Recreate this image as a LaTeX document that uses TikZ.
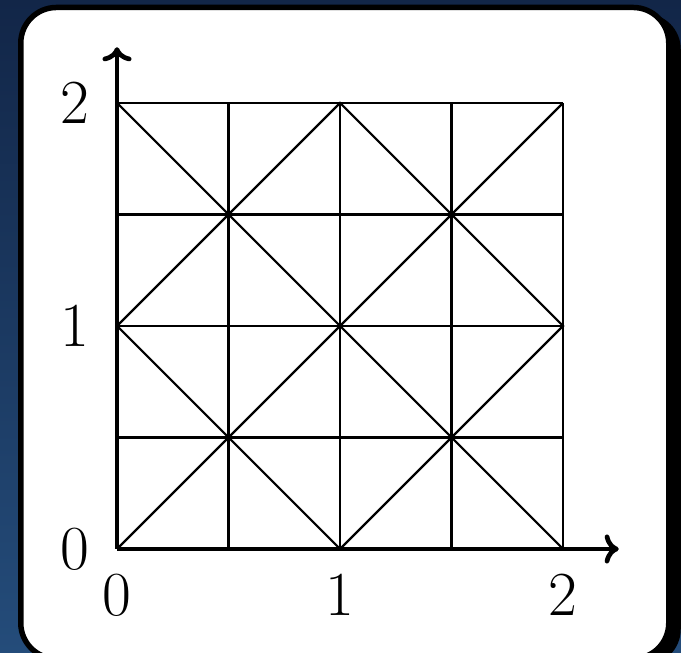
\documentclass[tikz,border=0pt]{standalone}
\usepackage{fontspec}
\usepackage{xcolor}
\usetikzlibrary{arrows.meta}
\definecolor{slidetop}{RGB}{18,38,72}
\definecolor{slidebottom}{RGB}{36,76,122}

\begin{document}
\begin{tikzpicture}[x=2cm,y=2cm,>={To[length=3.6pt,width=7.4pt]},font=\fontsize{16}{19}\selectfont]
  \useasboundingbox (-0.5247,-0.4664) rectangle (2.5291,2.4619);
  \shade[top color=slidetop,bottom color=slidebottom] (-0.5247,-0.4664) rectangle (2.5291,2.4619);
  \fill[black,rounded corners=0.32cm] (-0.378,-0.52) rectangle (2.528,2.401);
  \draw[black,fill=white,line width=1.4pt,rounded corners=0.32cm] (-0.4316,-0.492) rectangle (2.4742,2.4283);
  \draw[line width=0.55pt] (0,0) grid[step=1cm] (2,2);
  \draw[line width=0.55pt] (0,0) -- (2,2);
  \draw[line width=0.55pt] (0,2) -- (2,0);
  \draw[line width=0.55pt] (0,1) -- (1,2) -- (2,1) -- (1,0) -- cycle;
  \coordinate (o) at (0,0);
  \coordinate (xend) at (2.25,0);
  \coordinate (yend) at (0,2.25);
  \draw[->, line width=1.2pt] (o) -- (xend);
  \draw[->, line width=1.2pt] (o) -- (yend);
  \node (y0) at (-0.19,0) {0};
  \node (y1) at (-0.19,1) {1};
  \node (y2) at (-0.19,2) {2};
  \node (x0) at (0,-0.206) {0};
  \node (x1) at (1,-0.206) {1};
  \node (x2) at (2,-0.206) {2};
\end{tikzpicture}
\end{document}
